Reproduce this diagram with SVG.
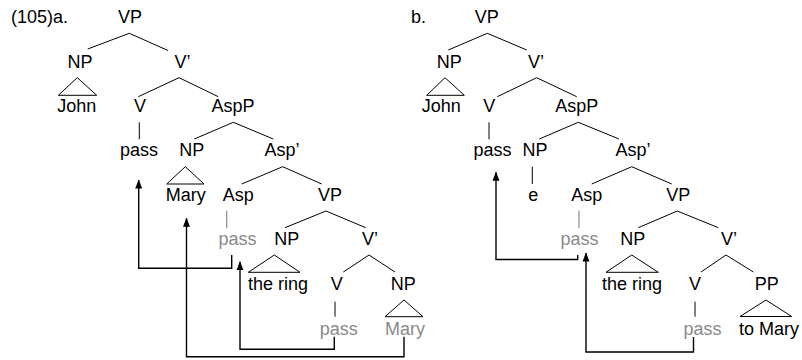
<svg xmlns="http://www.w3.org/2000/svg" width="802" height="360" viewBox="0 0 802 360">
<style>
text{font-family:"Liberation Sans",Arial,sans-serif;font-size:18px;fill:#000;text-anchor:middle}
text.g{fill:#8a8a8a}
text.l{text-anchor:start}
.br{stroke:#000;stroke-width:1;fill:none}
.tr{stroke:#000;stroke-width:1;fill:none}
.gl{stroke:#8a8a8a;stroke-width:1.2;fill:none}
.mv{stroke:#000;stroke-width:1.4;fill:none;marker-end:url(#ah)}
</style>
<defs>
<marker id="ah" markerUnits="userSpaceOnUse" markerWidth="9" markerHeight="8" refX="8.5" refY="4" orient="auto">
<path d="M0,0.5 L9,4 L0,7.5 z" fill="#000"/>
</marker>
</defs>
<rect width="802" height="360" fill="#fff"/>
<g id="labels">
<text class="l" x="11" y="23">(105)a.</text>
<text class="l" x="411" y="23">b.</text>
</g>
<g id="treeA">
<g id="a-VP"><text x="130" y="23">VP</text></g>
<g id="a-NP1"><text x="80" y="68">NP</text></g>
<g id="a-V1bar"><text x="182.5" y="68">V’</text></g>
<g id="a-John"><text x="76.7" y="112">John</text></g>
<g id="a-V1"><text x="140" y="112">V</text></g>
<g id="a-AspP"><text x="233" y="112">AspP</text></g>
<g id="a-pass1"><text x="139" y="155.5">pass</text></g>
<g id="a-NP2"><text x="191.7" y="155.5">NP</text></g>
<g id="a-Aspbar"><text x="282" y="155.5">Asp’</text></g>
<g id="a-Mary1"><text x="185.7" y="201">Mary</text></g>
<g id="a-Asp"><text x="238.3" y="201">Asp</text></g>
<g id="a-VP2"><text x="330" y="201">VP</text></g>
<g id="a-pass2"><text class="g" x="237.5" y="245">pass</text></g>
<g id="a-NP3"><text x="286.7" y="245">NP</text></g>
<g id="a-V2bar"><text x="370" y="245">V’</text></g>
<g id="a-ring"><text x="278" y="289.5">the ring</text></g>
<g id="a-V2"><text x="336.7" y="289.5">V</text></g>
<g id="a-NP4"><text x="403.3" y="289.5">NP</text></g>
<g id="a-pass3"><text class="g" x="338.7" y="334.5">pass</text></g>
<g id="a-Mary2"><text class="g" x="405" y="334.5">Mary</text></g>
</g>
<g id="treeB">
<g id="b-VP"><text x="486.7" y="23">VP</text></g>
<g id="b-NP1"><text x="449.3" y="68">NP</text></g>
<g id="b-V1bar"><text x="536" y="68">V’</text></g>
<g id="b-John"><text x="441.3" y="112">John</text></g>
<g id="b-V1"><text x="489.3" y="112">V</text></g>
<g id="b-AspP"><text x="576.7" y="112">AspP</text></g>
<g id="b-pass1"><text x="492.5" y="155.5">pass</text></g>
<g id="b-NP2"><text x="535" y="155.5">NP</text></g>
<g id="b-Aspbar"><text x="633" y="155.5">Asp’</text></g>
<g id="b-e"><text x="533.3" y="201">e</text></g>
<g id="b-Asp"><text x="586.7" y="201">Asp</text></g>
<g id="b-VP2"><text x="678.3" y="201">VP</text></g>
<g id="b-pass2"><text class="g" x="579.5" y="245">pass</text></g>
<g id="b-NP3"><text x="632.7" y="245">NP</text></g>
<g id="b-V2bar"><text x="729" y="245">V’</text></g>
<g id="b-ring"><text x="632" y="289.5">the ring</text></g>
<g id="b-V2"><text x="695" y="289.5">V</text></g>
<g id="b-PP"><text x="766.7" y="289.5">PP</text></g>
<g id="b-pass3"><text class="g" x="702.5" y="334.5">pass</text></g>
<g id="b-toMary"><text x="769" y="334.5">to Mary</text></g>
</g>
<g id="connectors">
<g id="a-branches" class="br">
<path d="M87.7,49 L129.3,33.3 L168,50.5"/>
<path d="M138.3,96.7 L179,77.7 L218.3,96.7"/>
<path d="M139.3,122.3 V139.3"/>
<path d="M194.3,139 L233.3,122.3 L273.3,139"/>
<path d="M241.7,184 L282.7,166.7 L321.7,184"/>
<path d="M285,227.7 L326,211 L365.7,227.7"/>
<path d="M343.3,272 L369,255 L395,272"/>
<path d="M335,301.7 V316.7"/>
<path d="M58.3,95.3 L77.3,77.7 L96.7,95.3 Z"/>
<path d="M166.7,184 L185.3,166.7 L204,184 Z"/>
<path d="M248.3,272.3 L274.3,255 L300,272.3 Z"/>
<path d="M385,316.7 L404,300 L423,316.7 Z"/>
</g>
<path class="gl" d="M226.7,210.7 V228.3"/>
<g id="b-branches" class="br">
<path d="M448.3,50 L487.3,33.3 L526.7,50"/>
<path d="M497.3,96.7 L536.7,77.7 L576.7,96.7"/>
<path d="M489,122.3 V139.3"/>
<path d="M539.3,139 L578.3,122.3 L619,139"/>
<path d="M532.3,166.7 V184"/>
<path d="M591.7,184 L631.7,166.7 L671.7,184"/>
<path d="M638.3,227.7 L677.3,211 L718.3,227.7"/>
<path d="M701,272 L726,255 L753.3,272"/>
<path d="M695,301.7 V316.7"/>
<path d="M426.7,95.3 L445,77.7 L464.3,95.3 Z"/>
<path d="M606,272.3 L631.7,255 L658.3,272.3 Z"/>
<path d="M740,316.5 L766,300 L791.7,316.5 Z"/>
</g>
<path class="gl" d="M579,210.7 V228"/>
<g id="movement">
<path class="mv" d="M231.7,255 V268.3 H138.7 V180"/>
<path class="mv" d="M334.3,336.7 V349.3 H240 V261.7"/>
<path class="mv" d="M404,336.7 V356.7 H186.5 V218.3"/>
<path class="mv" d="M577.7,255 V259.5 H496 V172.3"/>
<path class="mv" d="M693.5,337 V352 H586 V253"/>
</g>
</g>
</svg>
